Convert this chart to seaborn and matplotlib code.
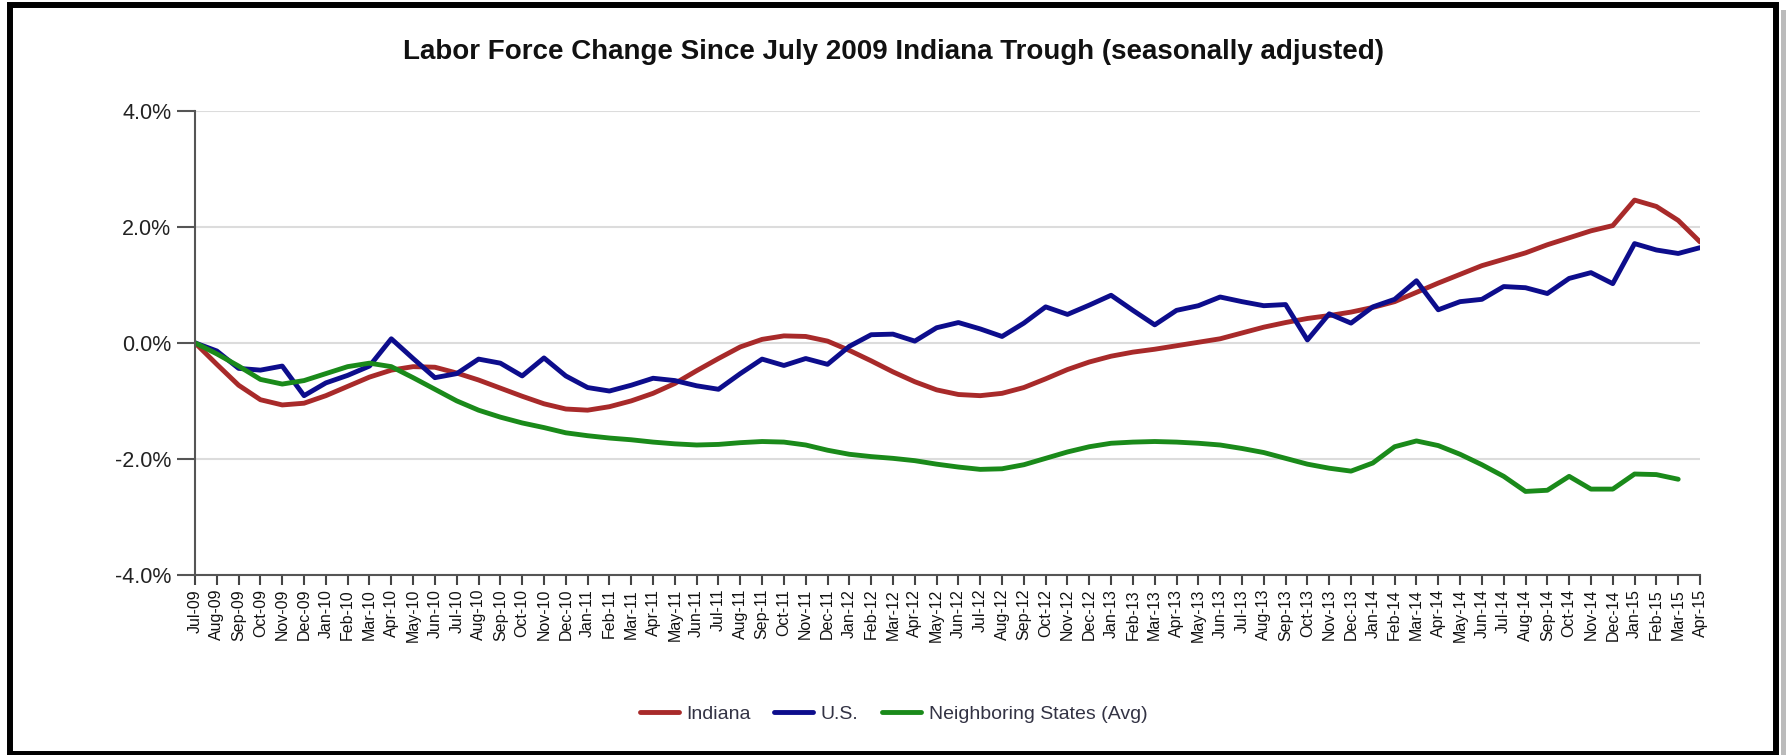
import matplotlib
matplotlib.use("Agg")
import matplotlib.pyplot as plt
from matplotlib.patches import Rectangle
from matplotlib.ticker import FuncFormatter
import seaborn as sns
import pandas as pd

# month labels Jul-09 .. Apr-15
months = pd.date_range("2009-07-01", "2015-04-01", freq="MS").strftime("%b-%y").tolist()

# percent change since Jul 2009
indiana = [0.00, -0.37, -0.73, -0.98, -1.07, -1.04, -0.91, -0.75, -0.59, -0.47,
           -0.41, -0.42, -0.52, -0.64, -0.78, -0.92, -1.05, -1.14, -1.16, -1.10,
           -1.00, -0.87, -0.70, -0.48, -0.27, -0.07, 0.06, 0.12, 0.11, 0.03,
           -0.13, -0.31, -0.50, -0.67, -0.81, -0.89, -0.91, -0.87, -0.77, -0.62,
           -0.46, -0.33, -0.23, -0.16, -0.11, -0.05, 0.01, 0.07, 0.17, 0.27,
           0.35, 0.42, 0.47, 0.53, 0.61, 0.71, 0.87, 1.03, 1.18, 1.33,
           1.44, 1.55, 1.69, 1.81, 1.93, 2.02, 2.46, 2.35, 2.11, 1.74]

us = [0.00, -0.14, -0.44, -0.47, -0.40, -0.91, -0.69, -0.56, -0.40, 0.07,
      -0.27, -0.60, -0.53, -0.28, -0.35, -0.57, -0.26, -0.57, -0.77, -0.83,
      -0.73, -0.61, -0.65, -0.74, -0.80, -0.53, -0.28, -0.39, -0.27, -0.37,
      -0.06, 0.14, 0.15, 0.03, 0.26, 0.35, 0.24, 0.11, 0.34, 0.62,
      0.49, 0.65, 0.82, 0.56, 0.31, 0.56, 0.64, 0.79, 0.71, 0.64,
      0.66, 0.05, 0.50, 0.34, 0.62, 0.75, 1.07, 0.57, 0.71, 0.75,
      0.97, 0.95, 0.85, 1.11, 1.21, 1.02, 1.71, 1.60, 1.54, 1.64]

neighbors = [0.00, -0.19, -0.40, -0.63, -0.71, -0.65, -0.53, -0.41, -0.35, -0.41,
             -0.60, -0.80, -1.00, -1.16, -1.28, -1.38, -1.46, -1.55, -1.60, -1.64,
             -1.67, -1.71, -1.74, -1.76, -1.75, -1.72, -1.70, -1.71, -1.76, -1.85,
             -1.92, -1.96, -1.99, -2.03, -2.09, -2.14, -2.18, -2.17, -2.10, -1.99,
             -1.88, -1.79, -1.73, -1.71, -1.70, -1.71, -1.73, -1.76, -1.82, -1.89,
             -1.99, -2.09, -2.16, -2.21, -2.07, -1.79, -1.69, -1.77, -1.92, -2.10,
             -2.30, -2.56, -2.54, -2.30, -2.52, -2.52, -2.26, -2.27, -2.35, None]

series_names = ["Indiana", "U.S.", "Neighboring States (Avg)"]
colors = ["#A82A2A", "#0D0D8C", "#1A8A1A"]

sns.set_theme(style="white")
plt.rcParams["font.family"] = ["Liberation Sans", "DejaVu Sans"]

df = pd.DataFrame({"month": range(len(months)),
                   "Indiana": indiana,
                   "U.S.": us,
                   "Neighboring States (Avg)": neighbors})
long = df.melt(id_vars="month", var_name="series", value_name="change").dropna()

W, H = 1787, 755
fig = plt.figure(figsize=(W / 100, H / 100), dpi=100)
ax = fig.add_axes([195 / W, 1 - 575 / H, (1700 - 195) / W, (575 - 110.7) / H])

sns.lineplot(data=long, x="month", y="change", hue="series", hue_order=series_names,
             palette=dict(zip(series_names, colors)), linewidth=3.5, ax=ax)

ax.set_xlim(0, len(months) - 1)
ax.set_ylim(-4, 4)
ax.set_yticks([-4, -2, 0, 2, 4])
ax.yaxis.set_major_formatter(FuncFormatter(lambda v, p: f"{v:.1f}%"))
ax.set_xticks(range(len(months)))
ax.set_xticklabels(months, rotation=90)
ax.set_xlabel("")
ax.set_ylabel("")

ax.yaxis.grid(True, color="#DCDCDC", lw=1.5)
ax.set_axisbelow(True)
for s in ["top", "right"]:
    ax.spines[s].set_visible(False)
for s in ["left", "bottom"]:
    ax.spines[s].set_color("#555555")
    ax.spines[s].set_linewidth(1.5)

ax.tick_params(axis="y", left=True, length=13, width=1.5, color="#555555",
               labelsize=15.5, labelcolor="#222222", pad=4)
ax.tick_params(axis="x", bottom=True, length=7, width=1.5, color="#444444",
               labelsize=11.5, labelcolor="#111111", pad=3)

fig.text(0.5, 1 - 52 / H, "Labor Force Change Since July 2009 Indiana Trough (seasonally adjusted)",
         ha="center", va="center", fontsize=20, fontweight="bold", color="#111111")

handles, labels = ax.get_legend_handles_labels()
ax.get_legend().remove()
leg = fig.legend(handles, labels, loc="center", bbox_to_anchor=(0.5, 1 - 714 / H), ncol=3,
                 frameon=False, fontsize=14, handlelength=2.0, handletextpad=0.4,
                 columnspacing=1.2)
for t in leg.get_texts():
    t.set_color("#333344")

# black frame around the whole chart, with a faint shadow on the right
fig.patches.append(Rectangle((1781 / W, 0), 5 / W, 1 - 10 / H, transform=fig.transFigure,
                             facecolor="#bbbbbb", edgecolor="none", zorder=9))
fig.patches.append(Rectangle((10 / W, 1 / H), 1766 / W, 749 / H, transform=fig.transFigure,
                             fill=False, edgecolor="black", lw=4.3, zorder=10))

fig.savefig("out.png", dpi=100)
